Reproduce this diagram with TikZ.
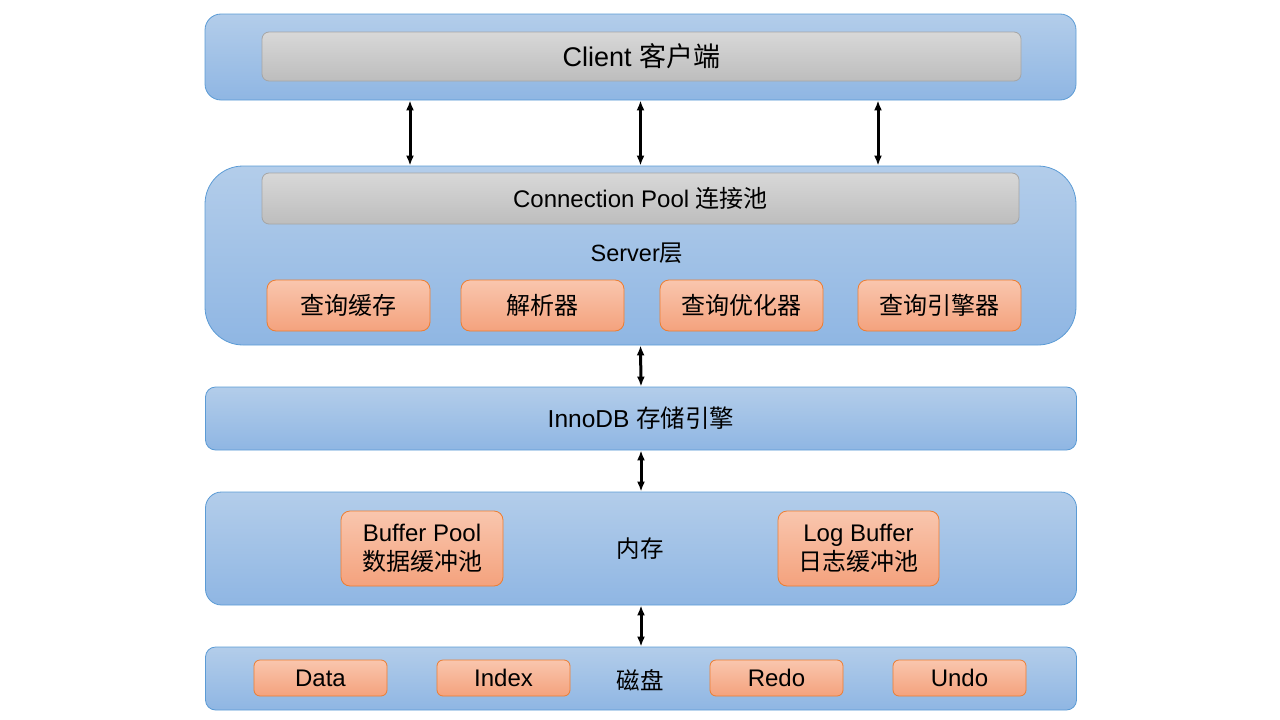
\documentclass[tikz,border=0pt]{standalone}
\usepackage{fontspec}
\setmainfont{Liberation Sans}
\newfontfamily\cjk{Noto Sans CJK SC}
\usetikzlibrary{arrows.meta}
\tikzset{>={Latex[length=10pt,width=8pt]}}
\definecolor{layertop}{HTML}{B3CDEA}
\definecolor{layerbot}{HTML}{8FB6E3}
\definecolor{layerline}{HTML}{5B9BD5}
\definecolor{barttop}{HTML}{D8D8D8}
\definecolor{barbot}{HTML}{BDBDBD}
\definecolor{barline}{HTML}{A5A5A5}
\definecolor{parttop}{HTML}{F9C6AE}
\definecolor{partbot}{HTML}{F4A27D}
\definecolor{partline}{HTML}{ED7D31}
\tikzset{layer/.style={draw=layerline,line width=0.8pt,top color=layertop,bottom color=layerbot,inner sep=0pt,minimum width=871pt}}
\tikzset{bar/.style={draw=barline,line width=0.8pt,top color=barttop,bottom color=barbot,rounded corners=7pt,inner sep=0pt}}
\tikzset{part/.style={draw=partline,line width=0.8pt,top color=parttop,bottom color=partbot,rounded corners=9pt,inner sep=0pt,align=center,font=\fontsize{24}{29}\selectfont}}
\tikzset{lbl/.style={font=\fontsize{23.5}{28}\selectfont}}
\tikzset{dbl/.style={<->,line width=3pt}}

\begin{document}
\begin{tikzpicture}[x=1pt,y=-1pt]
    \useasboundingbox (0,0) rectangle (1280,720);
    % client
    \node[layer,rounded corners=16pt,minimum height=86pt] (client) at (640.5,57) {};
    \node[bar,minimum width=759pt,minimum height=49pt,font=\fontsize{27}{32}\selectfont] (cli) at (641.5,56.5) {Client {\cjk 客户端}};

    % server
    \node[layer,rounded corners=38pt,minimum height=179pt] (server) at (640.5,255.5) {};
    \node[bar,minimum width=757pt,minimum height=51pt,font=\fontsize{24}{28}\selectfont] (pool) at (640.5,198.5) {Connection Pool {\cjk 连接池}};
    \node[lbl] (srv) at (637,253) {Server{\cjk 层}};
    \node[part,minimum width=163pt,minimum height=51pt] (cache) at (348.5,305.5) {\cjk 查询缓存};
    \node[part,minimum width=163pt,minimum height=51pt] (parser) at (542.5,305.5) {\cjk 解析器};
    \node[part,minimum width=163pt,minimum height=51pt] (optim) at (741.5,305.5) {\cjk 查询优化器};
    \node[part,minimum width=163pt,minimum height=51pt] (exec) at (939.5,305.5) {\cjk 查询引擎器};

    % innodb
    \node[layer,rounded corners=10pt,minimum height=63pt,font=\fontsize{24.5}{29}\selectfont] (innodb) at (641,418.5) {InnoDB {\cjk 存储引擎}};

    % memory
    \node[layer,rounded corners=16pt,minimum height=113pt] (mem) at (641,548.5) {};
    \node[lbl] (memlbl) at (640,549) {\cjk 内存};
    \node[part,minimum width=162pt,minimum height=75pt] (bufpool) at (422,548.5) {Buffer Pool\\{\cjk 数据缓冲池}};
    \node[part,minimum width=161pt,minimum height=75pt] (logbuf) at (858.5,548.5) {Log Buffer\\{\cjk 日志缓冲池}};

    % disk
    \node[layer,rounded corners=10pt,minimum height=63pt] (disk) at (641,678.5) {};
    \node[lbl] (disklbl) at (640,680) {\cjk 磁盘};
    \node[part,rounded corners=6pt,minimum width=133pt,minimum height=36pt] (data) at (320.5,678) {Data};
    \node[part,rounded corners=6pt,minimum width=133pt,minimum height=36pt] (index) at (503.5,678) {Index};
    \node[part,rounded corners=6pt,minimum width=133pt,minimum height=36pt] (redo) at (776.5,678) {Redo};
    \node[part,rounded corners=6pt,minimum width=133pt,minimum height=36pt] (undo) at (959.5,678) {Undo};

    \draw[dbl] ([xshift=-230.5pt]client.south) -- ([xshift=-230.5pt]server.north);
    \draw[dbl] (client.south) -- (server.north);
    \draw[dbl] ([xshift=237.5pt]client.south) -- ([xshift=237.5pt]server.north);
    \draw[dbl] (server.south) -- (innodb.north);
    \draw[dbl] (innodb.south) -- (mem.north);
    \draw[dbl] (mem.south) -- (disk.north);
\end{tikzpicture}
\end{document}
